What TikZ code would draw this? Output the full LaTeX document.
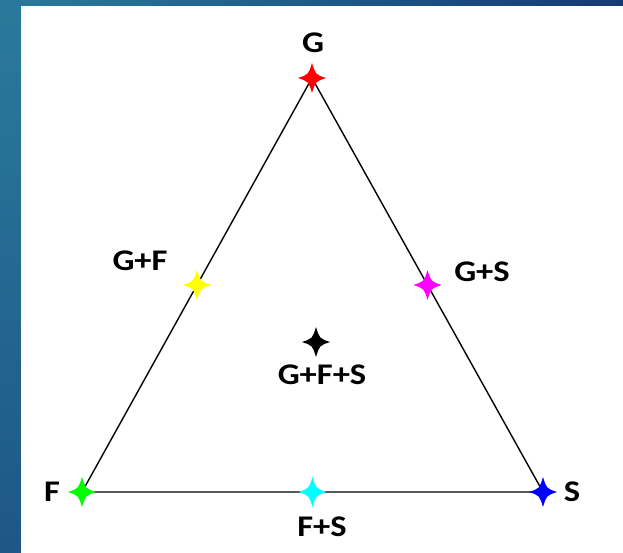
\documentclass[tikz,border=0pt]{standalone}
\usepackage{fontspec}
\setmainfont{Carlito}[FakeStretch=1.15]
\usepackage{tikz}
\usetikzlibrary{positioning, calc}

\definecolor{slideteal}{HTML}{2A7A9C}
\definecolor{slidenavy}{HTML}{163A74}
\definecolor{slidelow}{HTML}{1E5786}
\definecolor{spkred}{RGB}{255,0,0}
\definecolor{spkgreen}{RGB}{0,255,0}
\definecolor{spkblue}{RGB}{0,0,255}
\definecolor{spkyellow}{RGB}{255,255,0}
\definecolor{spkmagenta}{RGB}{255,0,255}
\definecolor{spkcyan}{RGB}{0,255,255}

\tikzset{
  lbl/.style={font=\bfseries\fontsize{30}{30}\selectfont, inner sep=0pt},
  edge/.style={line width=1.4pt, black},
  pics/sparkle/.style={code={
    \fill (0,-15) .. controls (3.5,-3.5) .. (14,0) .. controls (3.5,3.5) .. (0,15)
          .. controls (-3.5,3.5) .. (-14,0) .. controls (-3.5,-3.5) .. cycle;
  }}
}

\begin{document}
\begin{tikzpicture}[x=1pt, y=-1pt]
    \useasboundingbox (0,0) rectangle (623,553);

    % slide background
    \shade[top color=slideteal, bottom color=slidelow] (0,0) rectangle (21,553);
    \shade[left color=slideteal, right color=slidenavy] (0,0) rectangle (623,6);
    \fill[white] (21,6) rectangle (623,553);

    % --- CORNERS ---
    \coordinate (G) at (312,78);
    \coordinate (F) at (82,492);
    \coordinate (S) at (543,492);

    % triangle sides
    \draw[edge] (G) -- (F) -- (S) -- cycle;

    % --- MIXTURES ---
    \coordinate (GF) at ($(G)!0.5!(F)$);
    \coordinate (GS) at ($(G)!0.5!(S)$);
    \coordinate (FS) at ($(F)!0.5!(S)$);
    \coordinate (GFS) at (316,342);

    % sparkles
    \pic[spkred]     at (G)   {sparkle};
    \pic[spkgreen]   at (F)   {sparkle};
    \pic[spkblue]    at (S)   {sparkle};
    \pic[spkyellow]  at (GF)  {sparkle};
    \pic[spkmagenta] at (GS)  {sparkle};
    \pic[spkcyan]    at (FS)  {sparkle};
    \pic[black]      at (GFS) {sparkle};

    % --- LABELS ---
    \node[lbl] (labG)   at (313,43)  {G};
    \node[lbl] (labF)   at (52,492)  {F};
    \node[lbl] (labS)   at (572,492) {S};
    \node[lbl] (labGF)  at (140,261) {G+F};
    \node[lbl] (labGS)  at (482,272) {G+S};
    \node[lbl] (labGFS) at (322,375) {G+F+S};
    \node[lbl] (labFS)  at (322,527) {F+S};

\end{tikzpicture}
\end{document}
